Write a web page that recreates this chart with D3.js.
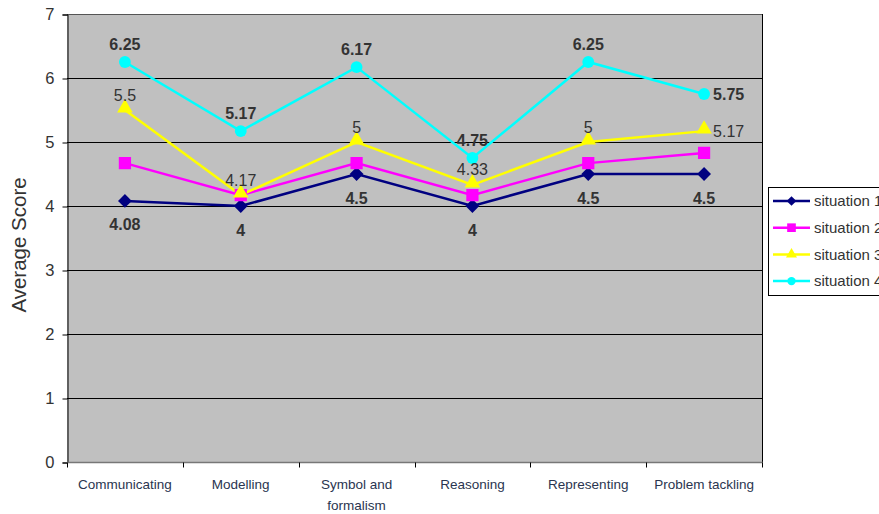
<!DOCTYPE html>
<html>
<head>
<script src="https://cdn.jsdelivr.net/npm/d3@7"></script>
<style>
    body{margin:0;background:#fff;font-family:"Liberation Sans",Arial,sans-serif;}
</style>
</head>
<body>
<div id="chart"></div>
<script>
    var categories = ["Communicating","Modelling","Symbol and formalism","Reasoning","Representing","Problem tackling"]
    var situation1 = [4.08,4,4.5,4,4.5,4.5]
    var situation2 = [4.67,4.17,4.67,4.17,4.67,4.83]
    var situation3 = [5.5,4.17,5,4.33,5,5.17]
    var situation4 = [6.25,5.17,6.17,4.75,6.25,5.75]
    var seriesNames = ["situation 1","situation 2","situation 3","situation 4"]
    var yTicks = [0,1,2,3,4,5,6,7]

    var colors = ["#000080","#ff00ff","#ffff00","#00ffff"]
    var shapes = [d3.symbolSquare,d3.symbolSquare,d3.symbolTriangle,d3.symbolCircle]
    var sizes = [95,150,105,110]
    var rotations = [45,0,0,0]

    var series = [situation1,situation2,situation3,situation4].map(function(v,i){
        return {name:seriesNames[i],values:v,color:colors[i],shape:shapes[i],size:sizes[i],rot:rotations[i],idx:i}
    })

    var width = 879, height = 514
    var plotL = 67, plotR = 762, plotT = 14, plotB = 462

    var svg = d3.select("#chart").append("svg")
        .attr("width",width).attr("height",height)

    var x = d3.scaleBand().domain(categories).range([plotL,plotR])
    var y = d3.scaleLinear().domain([0,7]).range([plotB,plotT])

    svg.append("rect")
        .attr("x",plotL).attr("y",plotT)
        .attr("width",plotR-plotL).attr("height",plotB-plotT)
        .attr("fill","#c0c0c0")

    // gridlines
    svg.selectAll(".grid").data(yTicks.slice(1)).enter().append("line")
        .attr("x1",plotL).attr("x2",plotR)
        .attr("y1",function(d){return y(d)+0.5}).attr("y2",function(d){return y(d)+0.5})
        .attr("stroke",function(d){return d==7?"#555":"#000"})
        .attr("stroke-width",1)
    svg.append("line").attr("x1",plotR+0.5).attr("x2",plotR+0.5)
        .attr("y1",plotT).attr("y2",plotB).attr("stroke","#000")

    // y axis
    var yAxis = svg.append("g").attr("transform","translate("+(plotL+0.5)+",0.5)")
        .call(d3.axisLeft(y).tickValues(yTicks).tickSize(5).tickPadding(8).tickFormat(d3.format("d")))
    yAxis.select(".domain").attr("stroke","#000")
    yAxis.selectAll("text").attr("font-size",16.5).attr("fill","#333")
        .attr("font-family","Liberation Sans, Arial, sans-serif")

    // x axis
    var xAxis = svg.append("g").attr("transform","translate(0,"+(plotB+0.5)+")")
    xAxis.append("line").attr("x1",plotL).attr("x2",plotR+1).attr("stroke","#777").attr("stroke-width",1.5)
    var bounds = d3.range(categories.length+1).map(function(i){return plotL+i*x.step()})
    xAxis.selectAll(".tk").data(bounds).enter().append("line")
        .attr("x1",function(d){return Math.round(d)+0.5}).attr("x2",function(d){return Math.round(d)+0.5})
        .attr("y1",0).attr("y2",5).attr("stroke","#000")
    xAxis.selectAll(".cat").data(categories).enter().append("text")
        .attr("x",function(d){return x(d)+x.bandwidth()/2})
        .attr("y",26)
        .attr("text-anchor","middle")
        .attr("font-size",13.5).attr("fill","#2a3550")
        .each(function(d){
            var t = d3.select(this)
            if(d=="Symbol and formalism"){
                t.append("tspan").attr("x",x(d)+x.bandwidth()/2).text("Symbol and")
                t.append("tspan").attr("x",x(d)+x.bandwidth()/2).attr("dy",21).text("formalism")
            } else t.text(d)
        })

    svg.append("text")
        .attr("transform","translate(26,245) rotate(-90)")
        .attr("text-anchor","middle")
        .attr("font-size",20.5).attr("fill","#333")
        .text("Average Score")

    var line = d3.line()
        .x(function(d,i){return x(categories[i])+x.bandwidth()/2})
        .y(function(d){return y(d)})

    series.forEach(function(s){
        svg.append("path").datum(s.values)
            .attr("d",line).attr("fill","none")
            .attr("stroke",s.color).attr("stroke-width",2.5)
    })
    series.forEach(function(s){
        svg.selectAll(".m"+s.idx).data(s.values).enter().append("path")
            .attr("transform",function(d,i){
                var yy = y(d)
                if(s.idx==2) yy -= 2
                return "translate("+(x(categories[i])+x.bandwidth()/2)+","+yy+") rotate("+s.rot+")"})
            .attr("d",d3.symbol().type(s.shape).size(s.size))
            .attr("fill",s.color)
    })

    // data labels: situation 1 below, 3 and 4 above (last point to the right)
    var labelSeries = [
        {s:series[0],dy:24,weight:"bold"},
        {s:series[2],dy:-15,weight:"normal"},
        {s:series[3],dy:-18,weight:"bold"}
    ]
    labelSeries.forEach(function(ls){
        svg.selectAll(".l"+ls.s.idx).data(ls.s.values).enter().append("text")
            .attr("x",function(d,i){
                var cx = x(categories[i])+x.bandwidth()/2
                if(i==5 && ls.s.idx!=0) return cx+9
                return cx
            })
            .attr("y",function(d,i){
                if(i==5 && ls.s.idx!=0) return y(d)
                return y(d)+ls.dy
            })
            .attr("dy","0.35em")
            .attr("text-anchor",function(d,i){return (i==5 && ls.s.idx!=0)?"start":"middle"})
            .attr("font-size",16).attr("font-weight",ls.weight)
            .attr("fill","#333")
            .text(function(d){return d})
    })

    // legend (runs past the right edge, as in the original)
    var lg = svg.append("g").attr("transform","translate(768,187)")
    lg.append("rect").attr("x",0.5).attr("y",0.5).attr("width",130).attr("height",108)
        .attr("fill","#fff").attr("stroke","#000")
    series.forEach(function(s,i){
        var ly = 14+i*26.7
        lg.append("line").attr("x1",5).attr("x2",42).attr("y1",ly).attr("y2",ly)
            .attr("stroke",s.color).attr("stroke-width",2.5)
        lg.append("path").attr("transform","translate(23.5,"+ly+") rotate("+s.rot+")")
            .attr("d",d3.symbol().type(s.shape).size(s.size*0.5)).attr("fill",s.color)
        lg.append("text").attr("x",46).attr("y",ly).attr("dy","0.35em")
            .attr("font-size",15).attr("fill","#333").text(s.name)
    })
</script>
</body>
</html>
